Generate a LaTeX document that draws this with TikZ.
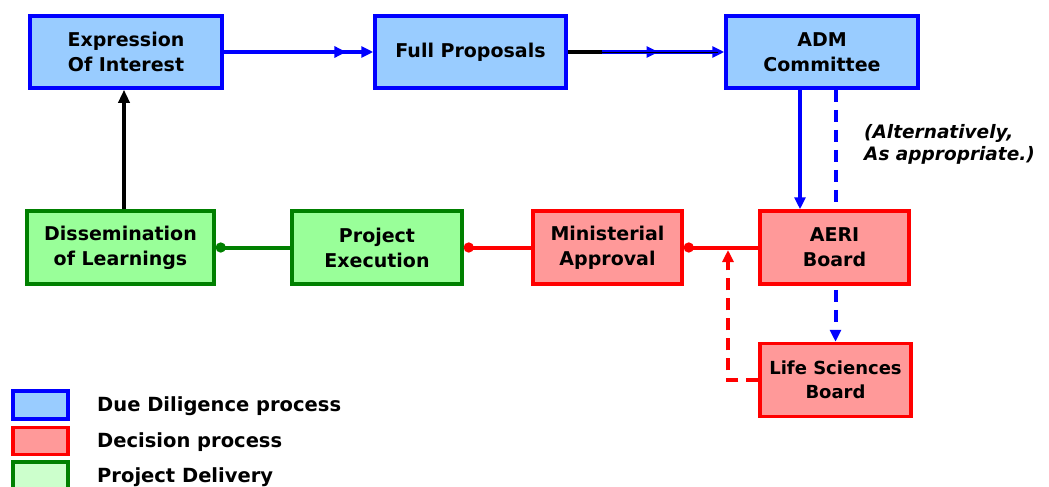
\documentclass[tikz,border=0pt]{standalone}
\usepackage{fontspec}
\setmainfont{DejaVu Sans}
\usetikzlibrary{arrows.meta,decorations.markings,backgrounds}
\definecolor{bfill}{RGB}{153,204,255}
\definecolor{rfill}{RGB}{255,153,153}
\definecolor{gfill}{RGB}{153,255,153}
\definecolor{lgfill}{RGB}{204,255,204}
\definecolor{gline}{RGB}{0,128,0}
\tikzset{
  box/.style={line width=3.5pt, minimum width=#1, inner sep=0pt, align=center, font=\fontsize{19}{25}\selectfont\bfseries},
  bluebox/.style={box=#1, draw=blue, fill=bfill, minimum height=72pt},
  redbox/.style={box=#1, draw=red, fill=rfill, minimum height=73pt},
  greenbox/.style={box=#1, draw=gline, fill=gfill, minimum height=73pt},
  tri/.tip={Triangle[length=12pt,width=11pt]},
  midarrow/.style={postaction={decorate}, decoration={markings, mark=at position #1 with {\arrow{tri}}}},
  flow/.style={line width=4pt},
  legtext/.style={anchor=west, inner sep=0pt, font=\fontsize{19.5}{22}\selectfont\bfseries},
}
\begin{document}
\begin{tikzpicture}[x=1pt,y=-1pt]
\useasboundingbox (0,0) rectangle (1049,487);
% main boxes
\node[bluebox=192pt] (eoi) at (126,52) {Expression\\Of Interest};
\node[bluebox=191pt] (fp) at (470.5,52) {Full Proposals};
\node[bluebox=192pt] (adm) at (822,52) {ADM\\Committee};
\node[greenbox=187pt] (diss) at (120.5,247.5) {Dissemination\\of Learnings};
\node[greenbox=170pt] (pe) at (377,247.5) {Project\\Execution};
\node[redbox=149pt] (ma) at (607.5,247.5) {Ministerial\\Approval};
\node[redbox=149pt] (aeri) at (834.5,247.5) {AERI\\Board};
\node[redbox=151pt, font=\fontsize{18}{24}\selectfont\bfseries] (ls) at (835.5,380) {Life Sciences\\Board};
% note
\node[anchor=north west, inner sep=0pt, align=left, font=\fontsize{18.5}{22}\selectfont\bfseries\itshape] (note) at (864,124) {(Alternatively,\\As appropriate.)};
% top flow
\draw[flow, draw=blue, -{tri}, midarrow=0.82] (eoi.east) -- (fp.west);
\draw[flow, draw=blue, -{tri}, midarrow=0.58] (fp.east) -- (adm.west);
\draw[line width=1.3pt, black] ([yshift=-0.5pt]fp.east) -- ([xshift=-6pt,yshift=-0.5pt]adm.west);
\draw[line width=4pt, black] (fp.east) -- ++(34,0);
% ADM down
\draw[flow, draw=blue, -{Triangle[length=12pt,width=11pt]}] ([xshift=-22pt]adm.south) -- ([xshift=-34.5pt]aeri.north);
\begin{scope}[on background layer]
\draw[flow, draw=blue, dash pattern=on 12pt off 8pt, -{Triangle[length=12pt,width=11pt]}] (adm.south -| ls.north) -- (ls.north);
\end{scope}
% bottom flow
\draw[flow, draw=red, -{Circle[length=10pt]}] (aeri.west) -- (ma.east);
\draw[flow, draw=red, -{Circle[length=10pt]}] (ma.west) -- (pe.east);
\draw[flow, draw=gline, -{Circle[length=10pt]}] (pe.west) -- (diss.east);
\coordinate (jn) at (728,250);
\draw[flow, draw=red, dash pattern=on 12pt off 8pt, -{Triangle[length=12pt,width=11pt]}] (ls.west) -| (jn);
% back to start
\draw[flow, draw=black, -{Triangle[length=13pt,width=11pt]}] ([xshift=3.5pt]diss.north) -- ([xshift=-2pt]eoi.south);
% legend
\node[draw=blue, fill=bfill, line width=3.5pt, minimum width=55pt, minimum height=28pt, inner sep=0pt] (lb) at (40.5,405) {};
\node[draw=red, fill=rfill, line width=3.5pt, minimum width=55pt, minimum height=27pt, inner sep=0pt] (lr) at (40.5,441) {};
\node[draw=gline, fill=lgfill, line width=3.5pt, minimum width=55pt, minimum height=28pt, inner sep=0pt] (lg) at (40.5,476) {};
\node[legtext] (tb) at (97,406) {Due Diligence process};
\node[legtext] (tr) at (97,442) {Decision process};
\node[legtext] (tg) at (97,477) {Project Delivery};
\end{tikzpicture}
\end{document}
